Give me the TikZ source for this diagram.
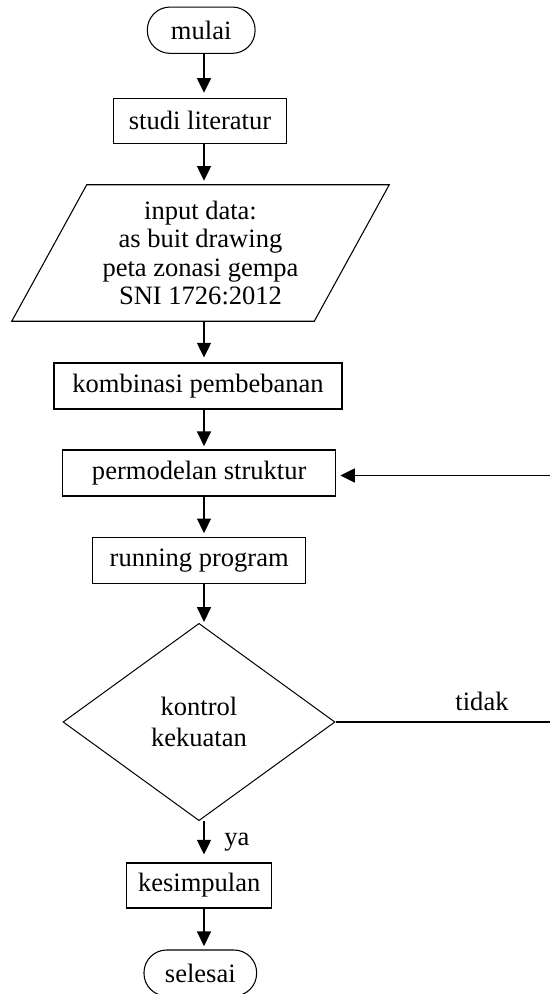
\documentclass[tikz,border=0pt]{standalone}
\usepackage{fontspec}
\setmainfont{Liberation Serif}
\usetikzlibrary{arrows.meta,shapes.geometric}
\begin{document}
\begin{tikzpicture}[x=0.75pt,y=-0.75pt,
  every node/.style={font=\fontsize{19.9pt}{21.4pt}\selectfont, inner sep=0pt},
  box/.style={draw, line width=0.8pt, rectangle},
  term/.style={draw, line width=0.8pt, rectangle, rounded corners=17pt},
  arr/.style={line width=1.1pt, -{Triangle[length=11pt,width=10.5pt]}, shorten >=3pt},
  link/.style={line width=1.1pt}]
\useasboundingbox (0,0) rectangle (549,994);
\fill[white] (0,0) rectangle (549,994);

\node[term, minimum width=80.8pt, minimum height=34.7pt] (mulai) at (201.2,30.2) {mulai};
\node[box, minimum width=130pt, minimum height=33.75pt] (studi) at (200,120.8) {studi literatur};
\node[minimum width=282.75pt, minimum height=102pt, align=center] (input) at (200.5,253) {input data:\\as buit drawing\\peta zonasi gempa\\SNI 1726:2012};
\draw[line width=0.8pt] ([xshift=56.25pt]input.north west) -- (input.north east) -- ([xshift=-56.25pt]input.south east) -- (input.south west) -- cycle;
\node[box, minimum width=216pt, minimum height=34.5pt] (komb) at (198,386) {kombinasi pembebanan};
\node[box, minimum width=204.75pt, minimum height=34.5pt] (model) at (199.2,473) {permodelan struktur};
\node[box, minimum width=159.75pt, minimum height=34.2pt] (run) at (199.2,560.5) {running program};
\node[diamond, draw, line width=0.75pt, minimum width=204pt, minimum height=148pt, align=center, font=\fontsize{19.9pt}{23pt}\selectfont] (ctrl) at (199,722) {kontrol\\kekuatan};
\node[box, minimum width=108.75pt, minimum height=33.75pt] (kes) at (199.2,885.5) {kesimpulan};
\node[term, minimum width=84.5pt, minimum height=34.5pt] (sel) at (200.3,973) {selesai};

\node[anchor=base] (tidak) at (482,710.7) {tidak};
\node[anchor=base] (ya) at (237,845) {ya};

\coordinate (ax) at (204,0);
\coordinate (r1) at (552,723.3);
\coordinate (r2) at (552,475.5);

\draw[arr, shorten >=3.75pt] (mulai.south -| ax) -- (studi.north -| ax);
\draw[arr] (studi.south -| ax) -- (input.north -| ax);
\draw[arr, shorten >=3.75pt] (input.south -| ax) -- (komb.north -| ax);
\draw[arr, shorten >=2.5pt] (komb.south -| ax) -- (model.north -| ax);
\draw[arr] (model.south -| ax) -- (run.north -| ax);
\draw[arr, shorten >=0.7pt] (run.south -| ax) -- (ctrl.north -| ax);
\draw[arr, shorten >=6pt] (ctrl.south -| ax) -- (kes.north -| ax);
\draw[arr, shorten >=2.5pt] (kes.south -| ax) -- (sel.north -| ax);

\draw[link] (ctrl.east) -- (ctrl.east -| r1);
\draw[arr] (r2) -- (model.east |- r2);
\end{tikzpicture}
\end{document}
